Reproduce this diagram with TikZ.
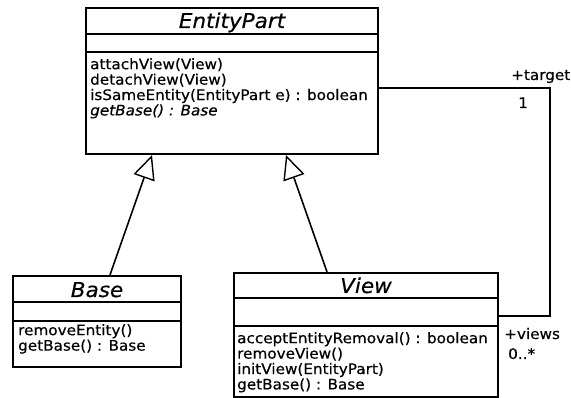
\documentclass[tikz,border=0pt]{standalone}
\usepackage{fontspec}
\setmainfont{DejaVu Sans}[FakeStretch=1.05, FakeBold=0.4]
\usetikzlibrary{arrows.meta}

\tikzset{
  classbox/.style={draw, line width=2.2pt, inner sep=0pt},
  cname/.style={font=\fontsize{20.5}{22}\selectfont\itshape, inner sep=0pt, anchor=base},
  opslist/.style={font=\fontsize{14.5}{15.4}\selectfont, align=left, inner sep=0pt, anchor=north west},
  rolelabel/.style={font=\fontsize{14.5}{15.4}\selectfont, inner sep=0pt, anchor=base west},
  compart/.style={line width=1.8pt},
  inherit/.style={line width=1.6pt, -{Triangle[open, length=24pt, width=22pt, fill=white, line width=1.4pt]}},
}

\begin{document}
\begin{tikzpicture}[x=1pt, y=-1pt]
        \useasboundingbox (0,0) rectangle (571,398);
        % class boxes
        \node[classbox, minimum width=292pt, minimum height=146pt] (ep) at (232,81) {};
        \node[classbox, minimum width=168pt, minimum height=91pt] (base) at (97,321.5) {};
        \node[classbox, minimum width=264pt, minimum height=124pt] (view) at (366,335) {};
        % compartments
        \draw[compart] (ep.west |- 0,34) -- (ep.east |- 0,34);
        \draw[compart] (ep.west |- 0,52) -- (ep.east |- 0,52);
        \draw[compart] (base.west |- 0,302) -- (base.east |- 0,302);
        \draw[compart] (base.west |- 0,321) -- (base.east |- 0,321);
        \draw[compart] (view.west |- 0,298) -- (view.east |- 0,298);
        \draw[compart] (view.west |- 0,326) -- (view.east |- 0,326);
        % names
        \node[cname] (epname) at (232,28) {EntityPart};
        \node[cname] (basename) at (97,297) {Base};
        \node[cname] (viewname) at (366,293) {View};
        % operations
        \node[opslist] (epops) at (90,58) {attachView(View)\\detachView(View)\\isSameEntity(EntityPart e) : boolean\\\textit{getBase() : Base}};
        \node[opslist] (baseops) at (18,324) {removeEntity()\\getBase() : Base};
        \node[opslist] (viewops) at (237,332) {acceptEntityRemoval() : boolean\\removeView()\\initView(EntityPart)\\getBase() : Base};
        % generalizations
        \draw[inherit] (base.north -| 110,0) -- (ep.south -| 152,0);
        \draw[inherit] (view.north -| 327,0) -- (ep.south -| 286,0);
        % association
        \draw[line width=1.8pt] (ep.east |- 0,88) -- (550,88) -- (550,316) -- (view.east |- 0,316);
        \node[rolelabel] (tgt) at (511,80) {+target};
        \node[rolelabel] (tgtm) at (518,108) {1};
        \node[rolelabel] (vws) at (504,339) {+views};
        \node[rolelabel] (vwsm) at (508,359) {0..*};
      \end{tikzpicture}
\end{document}
